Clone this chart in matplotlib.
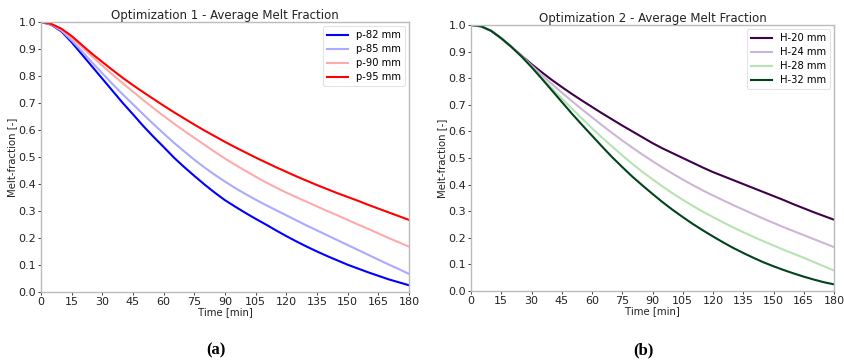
import matplotlib
matplotlib.use("Agg")
import matplotlib.pyplot as plt
from matplotlib import cm

# time points [min], every 5 min
time = list(range(0, 181, 5))

# Optimization 1 - pitch
p82 = [1.0, 0.99, 0.965, 0.925, 0.88, 0.835, 0.79, 0.745, 0.70, 0.658, 0.615, 0.575, 0.537,
       0.498, 0.463, 0.43, 0.398, 0.368, 0.34, 0.316, 0.293, 0.271, 0.25, 0.228, 0.207,
       0.187, 0.168, 0.15, 0.133, 0.117, 0.101, 0.087, 0.073, 0.06, 0.047, 0.036, 0.025]
p85 = [1.0, 0.991, 0.968, 0.932, 0.892, 0.85, 0.81, 0.77, 0.732, 0.695, 0.658, 0.622, 0.587,
       0.553, 0.521, 0.49, 0.461, 0.434, 0.409, 0.385, 0.363, 0.342, 0.322, 0.303, 0.284,
       0.265, 0.246, 0.228, 0.21, 0.192, 0.174, 0.156, 0.138, 0.12, 0.102, 0.085, 0.067]
p90 = [1.0, 0.992, 0.972, 0.942, 0.907, 0.872, 0.838, 0.805, 0.773, 0.742, 0.711, 0.681, 0.652,
       0.624, 0.597, 0.571, 0.545, 0.519, 0.494, 0.471, 0.449, 0.427, 0.406, 0.387, 0.368,
       0.351, 0.334, 0.317, 0.30, 0.284, 0.267, 0.25, 0.234, 0.217, 0.20, 0.184, 0.168]
p95 = [1.0, 0.993, 0.975, 0.948, 0.915, 0.882, 0.852, 0.822, 0.793, 0.766, 0.74, 0.715, 0.69,
       0.666, 0.643, 0.62, 0.598, 0.577, 0.556, 0.536, 0.517, 0.498, 0.48, 0.462, 0.445,
       0.428, 0.412, 0.396, 0.381, 0.366, 0.352, 0.338, 0.323, 0.309, 0.295, 0.281, 0.267]

# Optimization 2 - height
h20 = [1.0, 0.995, 0.978, 0.95, 0.918, 0.885, 0.853, 0.823, 0.794, 0.767, 0.741, 0.716, 0.692,
       0.668, 0.645, 0.622, 0.60, 0.578, 0.556, 0.536, 0.518, 0.50, 0.482, 0.464, 0.447,
       0.432, 0.417, 0.402, 0.387, 0.372, 0.357, 0.342, 0.326, 0.311, 0.296, 0.282, 0.268]
h24 = [1.0, 0.995, 0.978, 0.95, 0.918, 0.884, 0.848, 0.813, 0.779, 0.746, 0.714, 0.683, 0.653,
       0.623, 0.594, 0.566, 0.539, 0.513, 0.488, 0.464, 0.441, 0.419, 0.398, 0.378, 0.359,
       0.341, 0.323, 0.306, 0.289, 0.272, 0.256, 0.24, 0.225, 0.21, 0.195, 0.18, 0.165]
h28 = [1.0, 0.995, 0.978, 0.95, 0.918, 0.882, 0.843, 0.803, 0.763, 0.724, 0.686, 0.649, 0.612,
       0.577, 0.543, 0.51, 0.478, 0.448, 0.42, 0.393, 0.367, 0.343, 0.32, 0.298, 0.278,
       0.258, 0.239, 0.221, 0.204, 0.187, 0.171, 0.155, 0.14, 0.125, 0.109, 0.093, 0.077]
h32 = [1.0, 0.995, 0.978, 0.95, 0.918, 0.882, 0.842, 0.799, 0.755, 0.711, 0.667, 0.625, 0.584,
       0.543, 0.503, 0.466, 0.43, 0.397, 0.365, 0.334, 0.305, 0.278, 0.252, 0.228, 0.205,
       0.183, 0.162, 0.143, 0.125, 0.108, 0.093, 0.079, 0.066, 0.054, 0.043, 0.033, 0.025]

panels = [
    ("Optimization 1 - Average Melt Fraction", "(a)", cm.bwr,
     [(p82, "p-82 mm"), (p85, "p-85 mm"), (p90, "p-90 mm"), (p95, "p-95 mm")]),
    ("Optimization 2 - Average Melt Fraction", "(b)", cm.PRGn,
     [(h20, "H-20 mm"), (h24, "H-24 mm"), (h28, "H-28 mm"), (h32, "H-32 mm")]),
]

fig = plt.figure(figsize=(8.44, 3.61), dpi=100)
boxes = [[41/844, 1-292/361, 368/844, 270/361],
         [471/844, 1-291/361, 363/844, 266/361]]
caption_x = [216/844, 643/844]

for i, (title, tag, cmap, series) in enumerate(panels):
    ax = fig.add_axes(boxes[i])
    for k, (vals, lab) in enumerate(series):
        ax.plot(time, vals, color=cmap(k/3), lw=1.5, label=lab)
    ax.set_xlim(0, 180)
    ax.set_ylim(0, 1.0)
    ax.set_xticks(range(0, 181, 15))
    ax.set_yticks([j/10 for j in range(11)])
    ax.tick_params(labelsize=8, length=2.5, width=0.6, pad=1, colors="#222222")
    for s in ax.spines.values():
        s.set_color("#bbbbbb")
        s.set_linewidth(1.0)
    ax.set_title(title, fontsize=8.5, pad=2, color="#222222")
    ax.set_xlabel("Time [min]", fontsize=7.3, labelpad=0, color="#222222")
    ax.set_ylabel("Melt-fraction [-]", fontsize=7.3, labelpad=1, color="#222222")
    leg = ax.legend(loc="upper right", fontsize=7.2, frameon=True, borderaxespad=0.4,
                    handlelength=2.1, labelspacing=0.4)
    leg.get_frame().set_edgecolor("#dddddd")
    leg.get_frame().set_linewidth(0.8)
    fig.text(caption_x[i], 0.03, tag, ha="center", va="center", fontsize=12,
             fontweight="bold", family="Liberation Serif")

fig.savefig("out.png", dpi=100)
